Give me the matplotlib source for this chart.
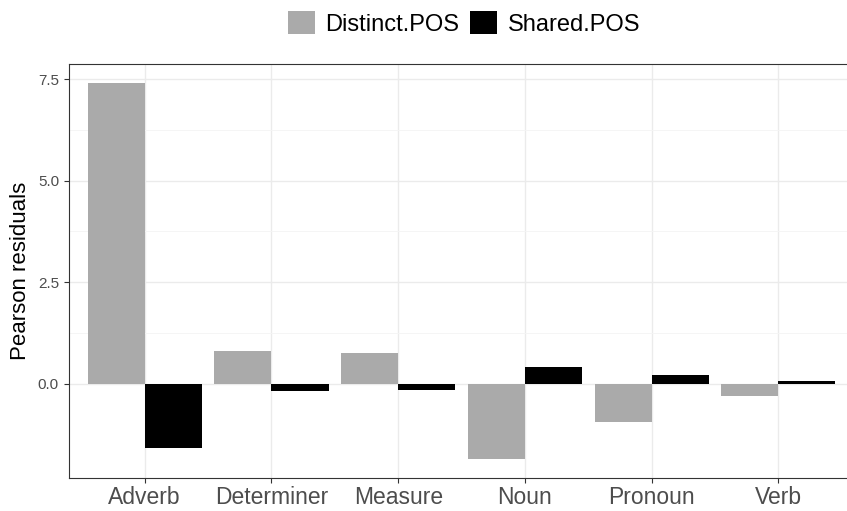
import matplotlib
matplotlib.use("Agg")
import matplotlib.pyplot as plt
from matplotlib.patches import Patch
import numpy as np

plt.rcParams['font.family'] = ['Liberation Sans', 'DejaVu Sans']

categories = ["Adverb", "Determiner", "Measure", "Noun", "Pronoun", "Verb"]
distinct_pos = [7.41, 0.80, 0.75, -1.87, -0.94, -0.31]
shared_pos = [-1.60, -0.18, -0.17, 0.40, 0.20, 0.06]
series_names = ["Distinct.POS", "Shared.POS"]
colors = ["#AAAAAA", "#000000"]

fig = plt.figure(figsize=(8.47, 5.11), dpi=100)
ax = fig.add_axes([68.7 / 847, (511 - 478) / 511, (854.5 - 68.7) / 847, (478 - 64) / 511])

x = np.arange(len(categories))
w = 0.45
ax.bar(x - w / 2, distinct_pos, width=w, color=colors[0], zorder=3)
ax.bar(x + w / 2, shared_pos, width=w, color=colors[1], zorder=3)

ax.set_xlim(-0.6, len(categories) - 0.4)
ax.set_ylim(-2.33, 7.88)

ax.set_xticks(x)
ax.set_xticklabels(categories, fontsize=16.5, color="#4D4D4D")
ax.set_yticks([0, 2.5, 5, 7.5])
ax.set_yticklabels(["0.0", "2.5", "5.0", "7.5"], fontsize=11, color="#4D4D4D")
ax.set_yticks([1.25, 3.75, 6.25], minor=True)
ax.tick_params(axis="both", which="major", length=3.5, color="#333333", width=0.8)
ax.tick_params(axis="x", which="major", pad=2)
ax.tick_params(axis="y", which="minor", length=0)

ax.grid(True, which="major", color="#EBEBEB", linewidth=1.0, zorder=0)
ax.grid(True, which="minor", axis="y", color="#F4F4F4", linewidth=0.6, zorder=0)
ax.set_axisbelow(True)

for s in ax.spines.values():
    s.set_color("#333333")
    s.set_linewidth(0.8)

ax.set_ylabel("Pearson residuals", fontsize=16, labelpad=5)

handles = [Patch(facecolor=c, edgecolor="none") for c in colors]
fig.legend(handles, series_names, loc="upper center", bbox_to_anchor=(0.548, 1.02),
           ncol=2, frameon=False, fontsize=17, handlelength=1.15, handleheight=1.15,
           handletextpad=0.45, columnspacing=0.45)

fig.savefig("out.png", dpi=100)
